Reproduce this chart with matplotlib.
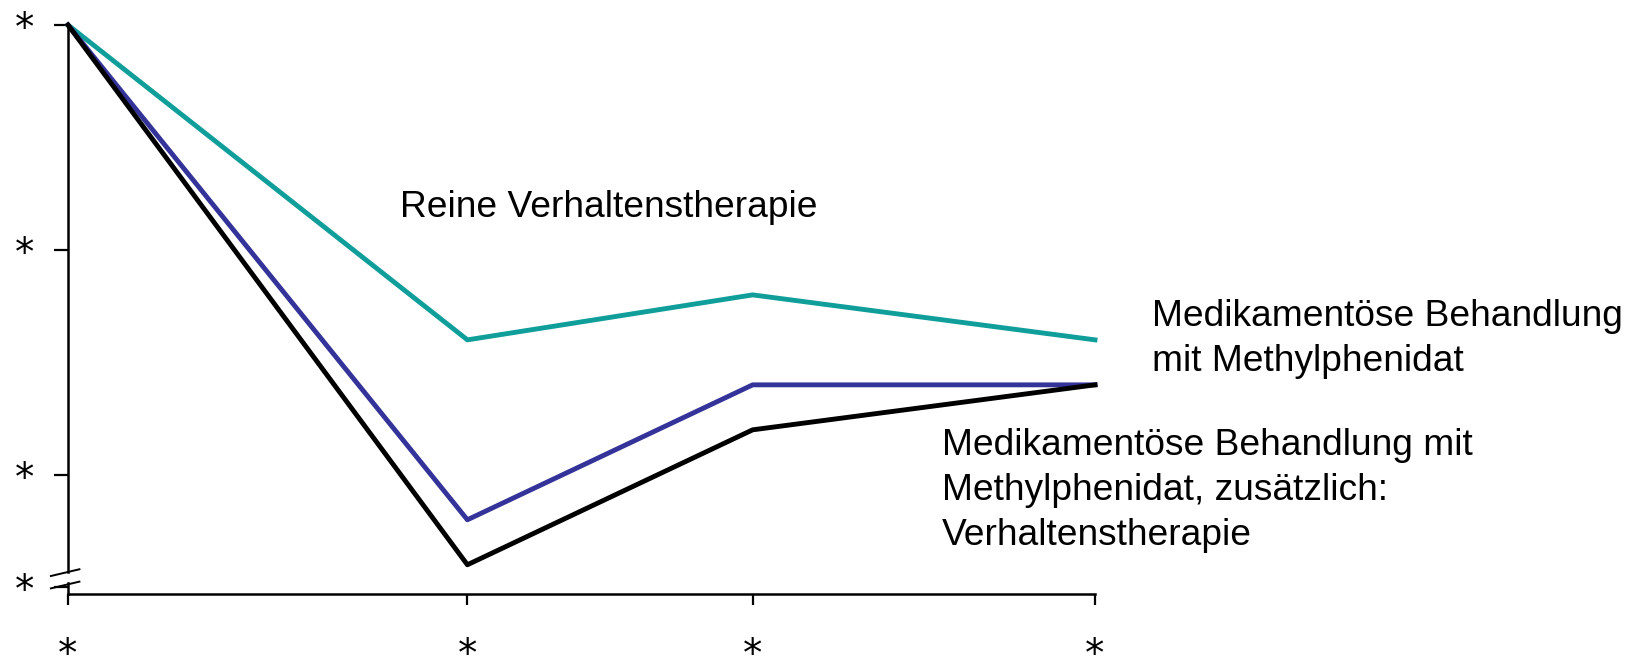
import matplotlib
matplotlib.use("Agg")
import matplotlib.pyplot as plt

# time points and the three schematic courses
months = [0, 14, 24, 36]
verhaltenstherapie = [3.0, 1.6, 1.8, 1.6]
methylphenidat = [3.0, 0.8, 1.4, 1.4]
kombination = [3.0, 0.6, 1.2, 1.4]

y_ticks = [3, 2, 1, 0.5]
tick_label = "*"

TEAL = "#0f9e9a"
BLUE = "#343399"

plt.rcParams["font.family"] = ["Liberation Sans", "DejaVu Sans"]

fig = plt.figure(figsize=(16.35, 6.56), dpi=100)
ax = fig.add_axes([68 / 1635, 62 / 656, (1095 - 68) / 1635, (594 - 25) / 656])

ax.plot(months, verhaltenstherapie, color=TEAL, lw=3.5, clip_on=False)
ax.plot(months, methylphenidat, color=BLUE, lw=3.5, clip_on=False)
ax.plot(months, kombination, color="black", lw=3.5, clip_on=False)

ax.set_xlim(0, 36)
ax.set_ylim(0.47, 3)

for s in ["top", "right"]:
    ax.spines[s].set_visible(False)
ax.spines["bottom"].set_linewidth(1.8)
ax.spines["left"].set_linewidth(1.8)
ax.spines["left"].set_bounds(0.567, 3)

# lower piece of the broken y axis and the break marks
ax.plot([0, 0], [0.47, 0.52], color="black", lw=1.8, clip_on=False)
ax.plot([-0.6, 0.4], [0.55, 0.58], color="black", lw=1.4, clip_on=False)
ax.plot([-0.6, 0.4], [0.495, 0.525], color="black", lw=1.4, clip_on=False)

ax.set_xticks(months)
ax.set_xticklabels([tick_label] * len(months), fontsize=28, family="DejaVu Sans")
ax.set_yticks(y_ticks)
ax.set_yticklabels([tick_label] * len(y_ticks), fontsize=28, family="DejaVu Sans")
ax.tick_params(axis="x", length=8, width=1.6, pad=22)
ax.tick_params(axis="y", length=10, width=1.6, pad=14)

ax.text(11.65, 2.19, "Reine Verhaltenstherapie", fontsize=26.7, va="center", ha="left")
ax.text(38.0, 1.605, "Medikamentöse Behandlung\nmit Methylphenidat",
        fontsize=26.7, va="center", ha="left", linespacing=1.38)
ax.text(30.63, 0.93, "Medikamentöse Behandlung mit\nMethylphenidat, zusätzlich:\nVerhaltenstherapie",
        fontsize=26.7, va="center", ha="left", linespacing=1.38)

fig.savefig("out.png", dpi=100)
